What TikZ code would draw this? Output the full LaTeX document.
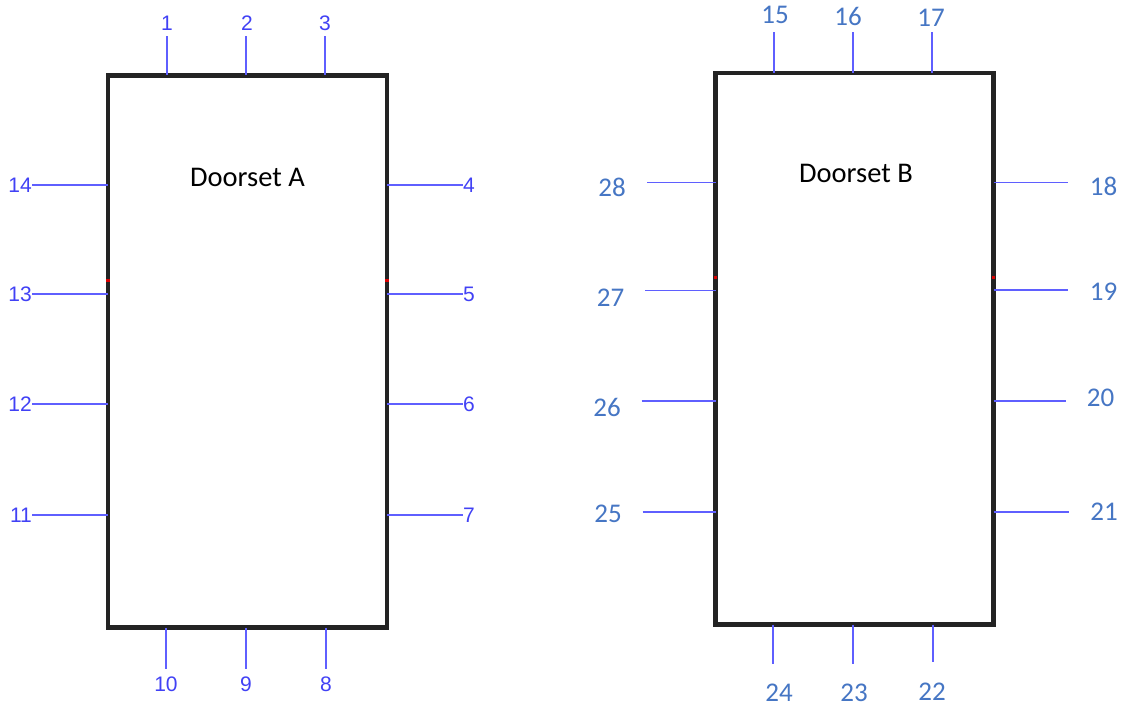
\documentclass[tikz,border=0pt]{standalone}
\usepackage{fontspec}
\setmainfont{Carlito}
\newfontfamily\arialf{Liberation Sans}
\definecolor{tickblue}{RGB}{95,95,255}
\definecolor{numA}{RGB}{65,65,245}
\definecolor{numB}{RGB}{70,118,196}
\definecolor{frame}{RGB}{35,35,35}
\begin{document}
\begin{tikzpicture}[x=1pt,y=-1pt,
  doorframe/.style={draw=frame,line width=4.8pt,line join=miter},
  tickA/.style={draw=tickblue,line width=1.5pt},
  tickB/.style={draw=tickblue,line width=1.7pt},
  labA/.style={inner sep=0pt,text=numA,font=\arialf\fontsize{21}{21}\selectfont},
  labB/.style={inner sep=0pt,text=numB,font=\fontsize{27}{27}\selectfont},
  title/.style={inner sep=0pt,text=black,font=\fontsize{28.5}{28.5}\selectfont},
  redmark/.style={draw=red!85!black,line width=3.5pt}]
\useasboundingbox (0,0) rectangle (1126,707);
\fill[white] (0,0) rectangle (1126,707);

% ---------- Doorset A ----------
\coordinate (Anw) at (108,75.5);
\coordinate (Ase) at (387,627.5);
\draw[doorframe] (Anw) rectangle (Ase);
\node[title] (tA) at (247.5,177) {Doorset A};
\draw[redmark] (108,278.5) -- (108,281.5);
\draw[redmark] (387,278.5) -- (387,281.5);

% top
\node[labA] (a1) at (167,23) {1};
\node[labA] (a2) at (247,23) {2};
\node[labA] (a3) at (325,23) {3};
\coordinate (ta1) at (167,36); \coordinate (ea1) at (167,75);
\coordinate (ta2) at (246,36); \coordinate (ea2) at (246,75);
\coordinate (ta3) at (325,36); \coordinate (ea3) at (325,75);
\draw[tickA] (ta1) -- (ea1);
\draw[tickA] (ta2) -- (ea2);
\draw[tickA] (ta3) -- (ea3);
% right
\node[labA,anchor=west] (a4) at (463,185) {4};
\node[labA,anchor=west] (a5) at (463,294) {5};
\node[labA,anchor=west] (a6) at (463,404) {6};
\node[labA,anchor=west] (a7) at (463,515) {7};
\coordinate (ea4) at (387,185); \coordinate (ea5) at (387,294);
\coordinate (ea6) at (387,404); \coordinate (ea7) at (387,515);
\draw[tickA] (ea4) -- (a4.west);
\draw[tickA] (ea5) -- (a5.west);
\draw[tickA] (ea6) -- (a6.west);
\draw[tickA] (ea7) -- (a7.west);
% bottom
\node[labA] (a8) at (326,684) {8};
\node[labA] (a9) at (246,684) {9};
\node[labA] (a10) at (166,684) {10};
\coordinate (ea8) at (326,628); \coordinate (ta8) at (326,669);
\coordinate (ea9) at (246,628); \coordinate (ta9) at (246,669);
\coordinate (ea10) at (166,628); \coordinate (ta10) at (166,669);
\draw[tickA] (ea8) -- (ta8);
\draw[tickA] (ea9) -- (ta9);
\draw[tickA] (ea10) -- (ta10);
% left
\node[labA,anchor=east] (a11) at (32,515) {11};
\node[labA,anchor=east] (a12) at (32,404) {12};
\node[labA,anchor=east] (a13) at (32,294) {13};
\node[labA,anchor=east] (a14) at (32,185) {14};
\coordinate (ea11) at (108,515); \coordinate (ea12) at (108,404);
\coordinate (ea13) at (108,294); \coordinate (ea14) at (108,185);
\draw[tickA] (a11.east) -- (ea11);
\draw[tickA] (a12.east) -- (ea12);
\draw[tickA] (a13.east) -- (ea13);
\draw[tickA] (a14.east) -- (ea14);

% ---------- Doorset B ----------
\coordinate (Bnw) at (715.5,73);
\coordinate (Bse) at (993.5,624.5);
\draw[doorframe] (Bnw) rectangle (Bse);
\node[title] (tB) at (856,173) {Doorset B};
\draw[redmark] (715.5,275.5) -- (715.5,278.5);
\draw[redmark] (993.5,275.5) -- (993.5,278.5);

% top
\node[labB] (b15) at (775,15) {15};
\node[labB] (b16) at (848,16.5) {16};
\node[labB] (b17) at (931,18) {17};
\coordinate (tb15) at (774,32); \coordinate (eb15) at (774,73);
\coordinate (tb16) at (853,32); \coordinate (eb16) at (853,73);
\coordinate (tb17) at (932,32); \coordinate (eb17) at (932,73);
\draw[tickB] (tb15) -- (eb15);
\draw[tickB] (tb16) -- (eb16);
\draw[tickB] (tb17) -- (eb17);
% right
\node[labB] (b18) at (1103.5,186) {18};
\node[labB] (b19) at (1103.5,292) {19};
\node[labB] (b20) at (1100.5,398) {20};
\node[labB] (b21) at (1104,512) {21};
\coordinate (eb18) at (993.5,182.5); \coordinate (tb18) at (1068,182.5);
\coordinate (eb19) at (993.5,290);   \coordinate (tb19) at (1068,290);
\coordinate (eb20) at (993.5,401);   \coordinate (tb20) at (1066,401);
\coordinate (eb21) at (993.5,512);   \coordinate (tb21) at (1069,512);
\draw[tickB] (eb18) -- (tb18);
\draw[tickB] (eb19) -- (tb19);
\draw[tickB] (eb20) -- (tb20);
\draw[tickB] (eb21) -- (tb21);
% bottom
\node[labB] (b22) at (932,692) {22};
\node[labB] (b23) at (854,693) {23};
\node[labB] (b24) at (779,693) {24};
\coordinate (eb22) at (933,624.5); \coordinate (tb22) at (933,662);
\coordinate (eb23) at (853,624.5); \coordinate (tb23) at (853,664);
\coordinate (eb24) at (773,624.5); \coordinate (tb24) at (773,664);
\draw[tickB] (eb22) -- (tb22);
\draw[tickB] (eb23) -- (tb23);
\draw[tickB] (eb24) -- (tb24);
% left
\node[labB] (b25) at (608,514) {25};
\node[labB] (b26) at (607,407) {26};
\node[labB] (b27) at (610.5,298) {27};
\node[labB] (b28) at (612,187) {28};
\coordinate (tb25) at (642.5,512);   \coordinate (eb25) at (715.5,512);
\coordinate (tb26) at (641.5,401);   \coordinate (eb26) at (715.5,401);
\coordinate (tb27) at (645,290.5);   \coordinate (eb27) at (715.5,290.5);
\coordinate (tb28) at (647,182.5);   \coordinate (eb28) at (715.5,182.5);
\draw[tickB] (tb25) -- (eb25);
\draw[tickB] (tb26) -- (eb26);
\draw[tickB] (tb27) -- (eb27);
\draw[tickB] (tb28) -- (eb28);
\end{tikzpicture}
\end{document}
